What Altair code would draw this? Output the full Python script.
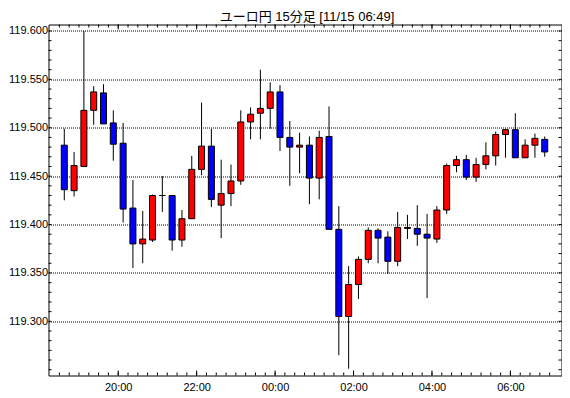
import altair as alt
import pandas as pd

title_text = "ユーロ円 15分足 [11/15 06:49]"

times = ["18:30", "18:45", "19:00", "19:15", "19:30", "19:45", "20:00", "20:15", "20:30", "20:45",
         "21:00", "21:15", "21:30", "21:45", "22:00", "22:15", "22:30", "22:45", "23:00", "23:15",
         "23:30", "23:45", "00:00", "00:15", "00:30", "00:45", "01:00", "01:15", "01:30", "01:45",
         "02:00", "02:15", "02:30", "02:45", "03:00", "03:15", "03:30", "03:45", "04:00", "04:15",
         "04:30", "04:45", "05:00", "05:15", "05:30", "05:45", "06:00", "06:15", "06:30", "06:45"]

opens = [119.482, 119.435, 119.460, 119.518, 119.536, 119.505, 119.484, 119.417, 119.380, 119.384,
         119.430, 119.430, 119.384, 119.406, 119.457, 119.481, 119.420, 119.432, 119.445, 119.506,
         119.515, 119.520, 119.537, 119.490, 119.480, 119.482, 119.448, 119.491, 119.395, 119.305,
         119.338, 119.364, 119.394, 119.387, 119.362, 119.396, 119.396, 119.390, 119.385, 119.415,
         119.461, 119.467, 119.449, 119.462, 119.471, 119.493, 119.498, 119.469, 119.482, 119.488]

highs = [119.499, 119.475, 119.600, 119.543, 119.545, 119.518, 119.505, 119.446, 119.414, 119.431,
         119.450, 119.430, 119.415, 119.471, 119.526, 119.499, 119.467, 119.462, 119.518, 119.521,
         119.560, 119.547, 119.544, 119.507, 119.495, 119.491, 119.497, 119.522, 119.419, 119.357,
         119.367, 119.397, 119.396, 119.393, 119.413, 119.410, 119.420, 119.411, 119.419, 119.463,
         119.471, 119.472, 119.469, 119.485, 119.496, 119.499, 119.515, 119.488, 119.494, 119.491]

lows = [119.425, 119.429, 119.460, 119.503, 119.504, 119.466, 119.402, 119.355, 119.360, 119.382,
        119.413, 119.373, 119.377, 119.406, 119.451, 119.418, 119.386, 119.419, 119.441, 119.488,
        119.488, 119.499, 119.476, 119.440, 119.453, 119.421, 119.426, 119.395, 119.265, 119.251,
        119.323, 119.360, 119.360, 119.349, 119.357, 119.385, 119.378, 119.324, 119.381, 119.411,
        119.454, 119.446, 119.444, 119.457, 119.461, 119.469, 119.469, 119.469, 119.469, 119.470]

closes = [119.436, 119.461, 119.518, 119.537, 119.504, 119.483, 119.416, 119.380, 119.385, 119.430,
          119.430, 119.384, 119.406, 119.457, 119.481, 119.426, 119.432, 119.445, 119.506, 119.514,
          119.520, 119.537, 119.490, 119.480, 119.482, 119.448, 119.490, 119.395, 119.305, 119.338,
          119.364, 119.394, 119.386, 119.362, 119.397, 119.397, 119.390, 119.386, 119.415, 119.461,
          119.467, 119.449, 119.462, 119.471, 119.493, 119.498, 119.469, 119.482, 119.489, 119.475]

x_label_times = ["20:00", "22:00", "00:00", "02:00", "04:00", "06:00"]
y_label_values = [119.30, 119.35, 119.40, 119.45, 119.50, 119.55, 119.60]


def to_min(t):
    h, m = (int(p) for p in t.split(":"))
    return (h * 60 + m - 18 * 60) % 1440


W, H = 513, 351

df = pd.DataFrame({"time": times, "open": opens, "high": highs, "low": lows, "close": closes})
df["start"] = [to_min(t) for t in times]
df["center"] = df["start"] + 7.5
df["dir"] = ["up" if c >= o else "down" for o, c in zip(opens, closes)]

x_label_pos = [to_min(t) for t in x_label_times]
label_map = ", ".join(f"'{p}': '{t}'" for p, t in zip(x_label_pos, x_label_times))

xscale = alt.Scale(domain=[21, 790.5], nice=False, zero=False)
yscale = alt.Scale(domain=[119.244, 119.6067], nice=False, zero=False)

x_axis = alt.Axis(values=x_label_pos, labelExpr="{" + label_map + "}[datum.value + '']",
                  ticks=False, domain=False, grid=False, title=None, labelPadding=6,
                  labelFont="Liberation Sans", labelFontSize=11, labelColor="black")
y_axis = alt.Axis(values=y_label_values, format=".3f", ticks=False, domain=False, grid=True,
                  gridColor="black", gridDash=[1, 1], gridWidth=1, gridOpacity=1, title=None,
                  labelPadding=1, labelFont="Liberation Sans", labelFontSize=11, labelColor="black")

# minor ticks (15-minute and 0.01 steps)
x_tick_pos = list(range(30, 781, 15))
y_tick_vals = [round(119.25 + 0.01 * k, 2) for k in range(36)]

base = alt.Chart(df)

wick = base.mark_rule(color="black", strokeWidth=1).encode(
    x=alt.X("center:Q", scale=xscale, axis=x_axis),
    y=alt.Y("low:Q", scale=yscale, axis=y_axis),
    y2="high:Q",
)

body = base.mark_bar(size=6, stroke="black", strokeWidth=1).encode(
    x=alt.X("center:Q", scale=xscale, axis=x_axis),
    y=alt.Y("open:Q", scale=yscale, axis=y_axis),
    y2="close:Q",
    color=alt.Color("dir:N", scale=alt.Scale(domain=["up", "down"], range=["#ff0000", "#0000ff"]),
                    legend=None),
)

xt = alt.Chart(pd.DataFrame({"m": x_tick_pos}))
xtm = alt.Chart(pd.DataFrame({"m": x_label_pos}))
yt = alt.Chart(pd.DataFrame({"v": y_tick_vals}))

xenc = alt.X("m:Q", scale=xscale, axis=x_axis)
yenc = alt.Y("v:Q", scale=yscale, axis=y_axis)

bottom_minor = xt.mark_rule(color="black").encode(x=xenc, y=alt.value(H), y2=alt.value(H - 3))
top_minor = xt.mark_rule(color="black").encode(x=xenc, y=alt.value(0), y2=alt.value(3))
bottom_major = xtm.mark_rule(color="black").encode(x=xenc, y=alt.value(H), y2=alt.value(H - 5))
top_major = xtm.mark_rule(color="black").encode(x=xenc, y=alt.value(0), y2=alt.value(5))
left_ticks = yt.mark_rule(color="black").encode(y=yenc, x=alt.value(0), x2=alt.value(3))
right_ticks = yt.mark_rule(color="black").encode(y=yenc, x=alt.value(W), x2=alt.value(W - 3))

title_mark = alt.Chart(pd.DataFrame({"t": [title_text]})).mark_text(
    font="'Liberation Sans', 'Noto Sans CJK JP'", fontSize=13, color="black",
    align="center", baseline="alphabetic"
).encode(text="t:N", x=alt.value(258.5), y=alt.value(-4))

chart = alt.layer(
    wick, body, bottom_minor, top_minor, bottom_major, top_major, left_ticks, right_ticks, title_mark
).properties(
    width=W,
    height=H,
    autosize=alt.AutoSizeParams(type="none"),
    padding={"left": 40.5, "top": 16.5, "right": 0.5, "bottom": 16.5},
    background="white",
).configure_view(
    stroke="black", strokeWidth=1
)

chart.save("out.html", embed_options={"renderer": "svg", "actions": False})
